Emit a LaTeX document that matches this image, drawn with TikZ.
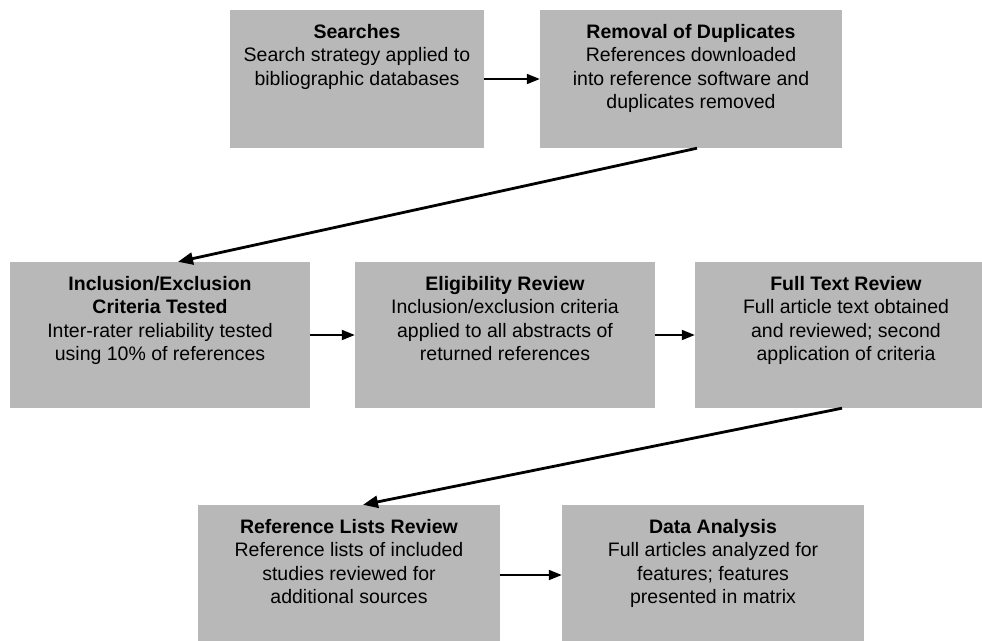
\documentclass[tikz,border=0pt]{standalone}
\usepackage{fontspec}
\setmainfont{Liberation Sans}
\usetikzlibrary{arrows.meta,calc}
\definecolor{boxgrey}{gray}{0.72}
\begin{document}
\begin{tikzpicture}[x=1pt,y=-1pt,
  stagebox/.style={draw=none,fill=boxgrey,inner sep=0pt,minimum height=#1},
  stagebox/.default=138pt,
  stagetext/.style={anchor=north,align=center,inner sep=0pt,font=\fontsize{19.5}{23.5}\selectfont},
  hflow/.style={-{Triangle[length=13pt,width=10pt]},line width=1.8pt},
  dflow/.style={-{Triangle[length=15pt,width=12pt]},line width=2.8pt}]
\useasboundingbox (0,0) rectangle (982,640);
% row 1
\node[stagebox=138pt,minimum width=254pt] (s) at (357,79) {};
\node[stagebox=138pt,minimum width=302pt] (r) at (691,79) {};
% row 2
\node[stagebox=146pt,minimum width=300pt] (inc) at (160,335) {};
\node[stagebox=146pt,minimum width=300pt] (elig) at (505,335) {};
\node[stagebox=146pt,minimum width=302pt] (full) at (846,335) {};
% row 3
\node[stagebox=140pt,minimum width=302pt] (ref) at (349,575) {};
\node[stagebox=140pt,minimum width=302pt] (data) at (713,575) {};
% texts
\node[stagetext] (st) at ([yshift=-14pt]s.north) {\textbf{Searches}\\Search strategy applied to\\bibliographic databases};
\node[stagetext] (rt) at ([yshift=-14pt]r.north) {\textbf{Removal of Duplicates}\\References downloaded\\into reference software and\\duplicates removed};
\node[stagetext] (inct) at ([yshift=-14pt]inc.north) {\textbf{Inclusion/Exclusion}\\\textbf{Criteria Tested}\\Inter-rater reliability tested\\using 10\% of references};
\node[stagetext] (eligt) at ([yshift=-14pt]elig.north) {\textbf{Eligibility Review}\\Inclusion/exclusion criteria\\applied to all abstracts of\\returned references};
\node[stagetext] (fullt) at ([yshift=-14pt]full.north) {\textbf{Full Text Review}\\Full article text obtained\\and reviewed; second\\application of criteria};
\node[stagetext] (reft) at ([yshift=-14pt]ref.north) {\textbf{Reference Lists Review}\\Reference lists of included\\studies reviewed for\\additional sources};
\node[stagetext] (datat) at ([yshift=-14pt]data.north) {\textbf{Data Analysis}\\Full articles analyzed for\\features; features\\presented in matrix};
% connectors
\draw[hflow] (s.east) -- (r.west);
\draw[hflow] (inc.east) -- (elig.west);
\draw[hflow] (elig.east) -- (full.west);
\draw[hflow] (ref.east) -- (data.west);
\draw[dflow] ([xshift=6pt]r.south) -- ([xshift=18pt]inc.north);
\draw[dflow] ([xshift=-4pt]full.south) -- ([xshift=14pt]ref.north);
\end{tikzpicture}
\end{document}
